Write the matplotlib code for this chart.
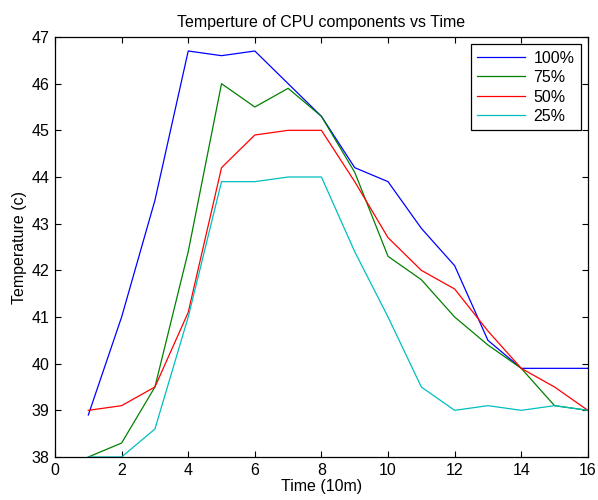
import numpy as np
import matplotlib as mpl
mpl.use('agg')
import matplotlib.pyplot as plt

plt.rcParams['font.family'] = ['Liberation Sans', 'DejaVu Sans']

# time steps (10 min each)
time = [1, 2, 3, 4, 5, 6, 7, 8, 9, 10, 11, 12, 13, 14, 15, 16]

load_100 = [38.9, 41.0, 43.5, 46.7, 46.6, 46.7, 46.0, 45.3, 44.2, 43.9, 42.9, 42.1, 40.5, 39.9, 39.9, 39.9]
load_75 = [38.0, 38.3, 39.5, 42.4, 46.0, 45.5, 45.9, 45.3, 44.1, 42.3, 41.8, 41.0, 40.4, 39.9, 39.1, 39.0]
load_50 = [39.0, 39.1, 39.5, 41.1, 44.2, 44.9, 45.0, 45.0, 43.9, 42.7, 42.0, 41.6, 40.7, 39.9, 39.5, 39.0]
load_25 = [38.0, 38.0, 38.6, 41.0, 43.9, 43.9, 44.0, 44.0, 42.4, 41.0, 39.5, 39.0, 39.1, 39.0, 39.1, 39.0]

labels = ['100%', '75%', '50%', '25%']
colors = ['#0000ff', '#008000', '#ff0000', '#00bfbf']

fig = plt.figure(figsize=(5.98, 5.0), dpi=100)
ax = fig.add_axes([0.092, 0.086, 0.891, 0.840])

for series, lab, col in zip([load_100, load_75, load_50, load_25], labels, colors):
    ax.plot(time, series, color=col, linewidth=0.9, label=lab)

fs = 11.5
ax.set_xlim(0, 16)
ax.set_ylim(38, 47)
ax.set_xticks(np.arange(0, 17, 2))
ax.set_yticks(np.arange(38, 48, 1))
ax.tick_params(direction='in', top=True, right=True, labelsize=fs, length=4.5, width=0.8, pad=4)
for sp in ax.spines.values():
    sp.set_linewidth(0.9)

ax.set_title('Temperture of CPU components vs Time', fontsize=fs, pad=7)
ax.set_xlabel('Time (10m)', fontsize=fs, labelpad=1)
ax.set_ylabel('Temperature (c)', fontsize=fs, labelpad=3)

leg = ax.legend(loc='upper right', fontsize=fs, fancybox=False, framealpha=1,
                edgecolor='black', borderaxespad=0.45, handlelength=3.0,
                handletextpad=0.5, labelspacing=0.28, borderpad=0.4)
leg.get_frame().set_linewidth(0.9)

fig.savefig('out.png', dpi=100)
